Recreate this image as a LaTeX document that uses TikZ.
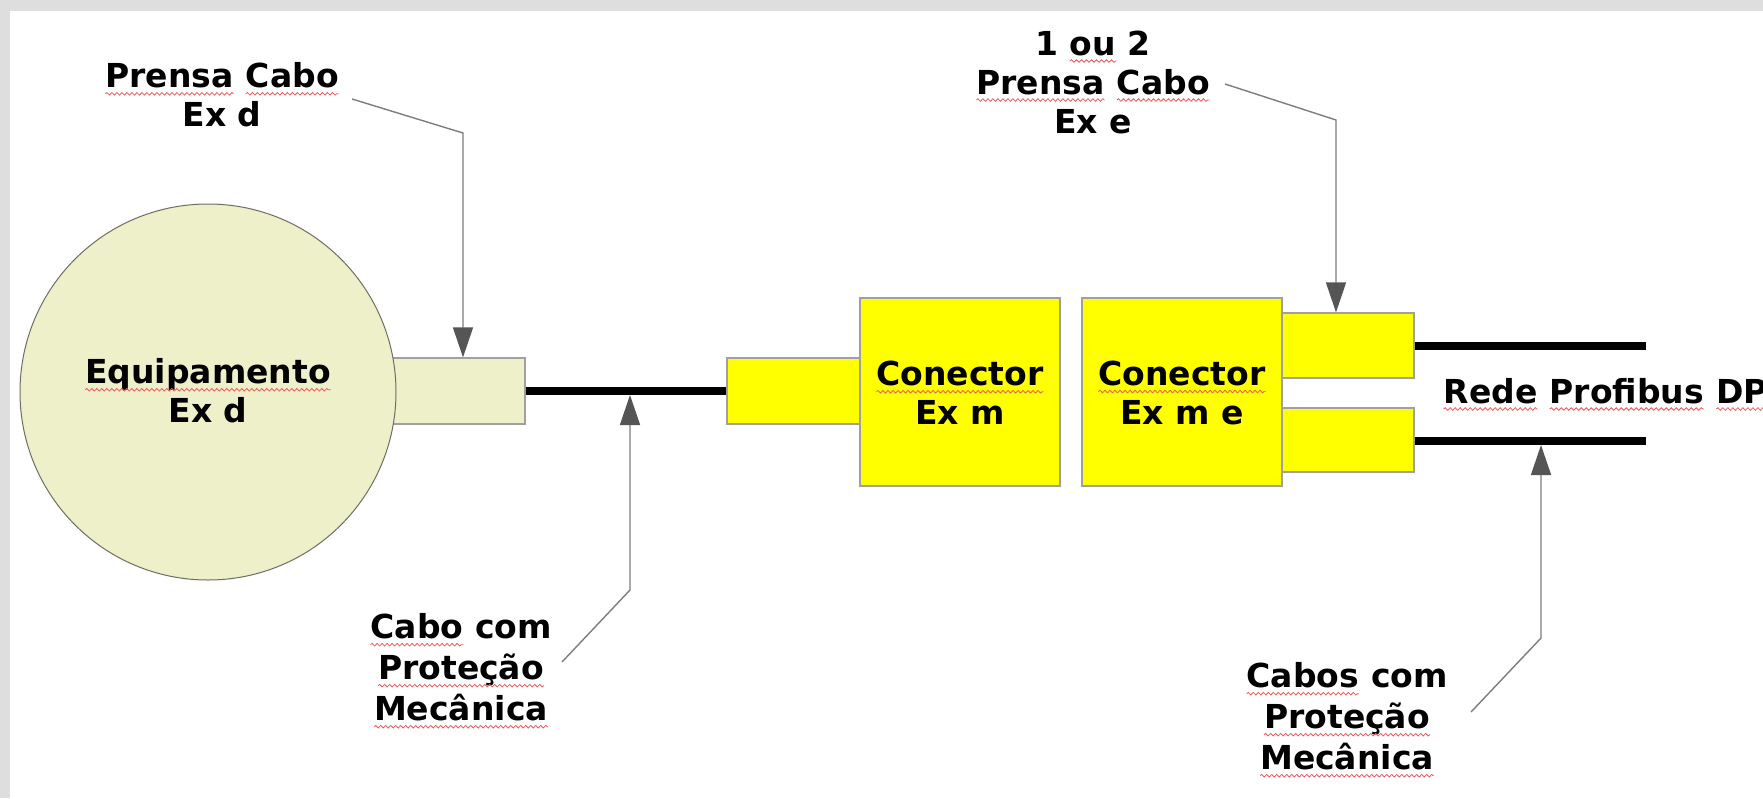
\documentclass[tikz,border=0pt]{standalone}
\usepackage{fontspec}
\setmainfont{DejaVu Sans}
\usetikzlibrary{decorations.pathmorphing,arrows.meta}
\definecolor{bgtex}{RGB}{222,222,222}
\definecolor{beige}{RGB}{237,240,200}
\definecolor{ylw}{RGB}{255,255,0}
\definecolor{boxedge}{RGB}{160,160,160}
\definecolor{circedge}{RGB}{110,110,100}
\definecolor{calloutcol}{RGB}{125,125,125}
\definecolor{headcol}{RGB}{85,85,85}
\definecolor{sqcol}{RGB}{240,90,90}
\tikzset{
  sqline/.style={draw=sqcol, line width=0.8pt, decorate, decoration={snake, amplitude=1.3pt, segment length=5pt}},
  lbl/.style={font=\bfseries\fontsize{33}{39}\selectfont, align=center, inner sep=0pt, text=black},
  lblwide/.style={font=\bfseries\fontsize{33}{41}\selectfont, align=center, inner sep=0pt, text=black},
  ybox/.style={draw=boxedge, line width=1.3pt, fill=ylw, inner sep=0pt},
  bbox/.style={draw=boxedge, line width=1.3pt, fill=beige, inner sep=0pt},
  cable/.style={line width=8pt, black},
  callout/.style={draw=calloutcol, line width=1.4pt, -{Triangle[width=20pt,length=30pt,color=headcol]}}
}
\newcommand{\sq}[1]{\tikz[baseline=(sqw.base)]{\node[inner sep=0pt,outer sep=0pt,anchor=base](sqw){#1};\draw[sqline]([yshift=-6pt]sqw.base west)--([yshift=-6pt]sqw.base east);}}
\begin{document}
\begin{tikzpicture}[x=1pt,y=-1pt]
\useasboundingbox (0,0) rectangle (1763,798);
\fill[bgtex] (0,0) rectangle (1763,798);
\fill[white] (10,11) rectangle (1763,798);

% equipment and its gland
\node[bbox, minimum width=140pt, minimum height=66pt] (gland) at (455,391) {};
\node[circle, draw=circedge, line width=1pt, fill=beige, minimum size=376pt, inner sep=0pt] (equip) at (208,392) {};
\node[lbl] (equiptxt) at (208,391) {\sq{Equipamento}\\Ex d};

% first connector
\node[ybox, minimum width=133pt, minimum height=66pt] (plug1) at (793.5,391) {};
\node[ybox, minimum width=200pt, minimum height=188pt] (con1) at (960,392) {};
\node[lbl] (con1txt) at (960,393) {\sq{Conector}\\Ex m};

% second connector
\node[ybox, minimum width=200pt, minimum height=188pt] (con2) at (1182,392) {};
\node[lbl] (con2txt) at (1182,393) {\sq{Conector}\\Ex m e};
\node[ybox, minimum width=132pt, minimum height=65pt] (up) at (1348,345.5) {};
\node[ybox, minimum width=132pt, minimum height=64pt] (low) at (1348,440) {};

% cables
\coordinate (upend) at (1646,346);
\coordinate (lowend) at (1646,441);
\draw[cable] (gland.east) -- (plug1.west);
\draw[cable] (up.east |- upend) -- (upend);
\draw[cable] (low.east |- lowend) -- (lowend);

\node[lbl, anchor=base west] (rede) at (1443,403) {\sq{Rede} \sq{Profibus} \sq{DP}};

% labels
\node[lbl] (lblA) at (222,95) {\sq{Prensa} \sq{Cabo}\\Ex d};
\node[lbl] (lblB) at (1093,82) {1 \sq{ou} 2\\\sq{Prensa} \sq{Cabo}\\Ex e};
\node[lblwide] (lblC) at (461,671) {\sq{Cabo} com\\\sq{Proteção}\\\sq{Mecânica}};
\node[lblwide] (lblD) at (1347,720) {\sq{Cabos} com\\\sq{Proteção}\\\sq{Mecânica}};

% callouts
\coordinate (a1s) at (352,99);
\coordinate (a1c) at (463,133);
\draw[callout] (a1s) -- (a1c) -- (a1c |- gland.north);

\coordinate (a2s) at (1225,84);
\coordinate (a2c) at (1336,120);
\draw[callout] (a2s) -- (a2c) -- (a2c |- up.north);

\coordinate (a3s) at (562,662);
\coordinate (a3c) at (630,590);
\coordinate (a3t) at (630,395);
\draw[callout] (a3s) -- (a3c) -- (a3t);

\coordinate (a4s) at (1471,712);
\coordinate (a4c) at (1541,638);
\coordinate (a4t) at (1541,445);
\draw[callout] (a4s) -- (a4c) -- (a4t);
\end{tikzpicture}
\end{document}
